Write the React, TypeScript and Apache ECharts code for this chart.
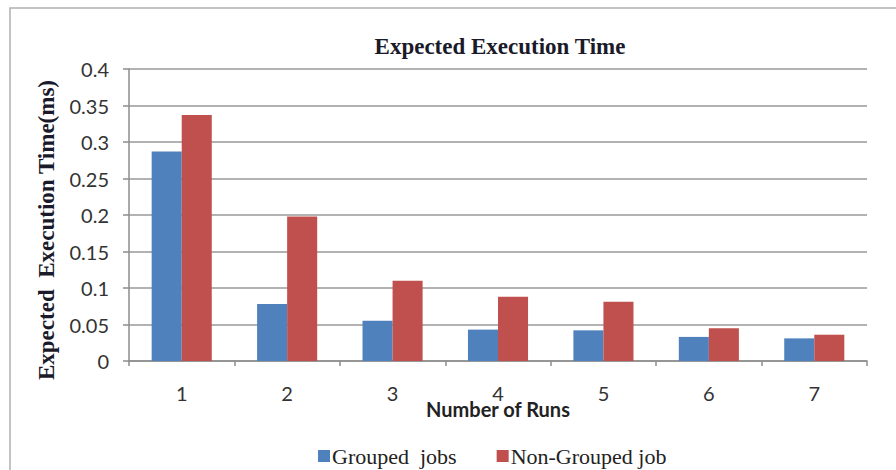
import React, { useEffect, useRef } from "react";
import * as echarts from "echarts";

const categories = ["1", "2", "3", "4", "5", "6", "7"];
const groupedJobs = [0.287, 0.078, 0.055, 0.043, 0.042, 0.033, 0.031];
const nonGroupedJobs = [0.337, 0.198, 0.11, 0.088, 0.081, 0.045, 0.036];
const seriesNames = ["Grouped  jobs", "Non-Grouped job"];

export default function App() {
  const ref = useRef<HTMLDivElement>(null);
  useEffect(() => {
    if (!ref.current) return;
    const chart = echarts.init(ref.current, null, { renderer: "svg" });
    const serif = "Liberation Serif";
    const sans = "Lato";
    chart.setOption({
      animation: false,
      backgroundColor: "#ffffff",
      graphic: [
        {
          type: "rect",
          shape: { x: 10, y: 8, width: 900, height: 500 },
          style: { fill: "none", stroke: "#b0b0b0", lineWidth: 1.5 },
          silent: true,
          z: -1,
        },
      ],
      title: {
        text: "Expected Execution Time",
        left: 495,
        textAlign: "center",
        top: 30,
        textStyle: { fontFamily: serif, fontWeight: "bold", fontSize: 23, color: "#1a1a2a" },
      },
      legend: {
        left: 313,
        top: 440,
        itemWidth: 12,
        itemHeight: 12,
        itemGap: 40,
        icon: "rect",
        textStyle: { fontFamily: serif, fontSize: 22, color: "#222", padding: [0, 0, 0, -3] },
        data: seriesNames,
      },
      grid: { left: 129, right: 29, top: 69, bottom: 109 },
      xAxis: {
        type: "category",
        data: categories,
        name: "Number of Runs",
        nameLocation: "middle",
        nameGap: 38,
        nameMoveOverlap: false,
        nameTextStyle: { fontFamily: sans, fontWeight: "bold", fontSize: 20, color: "#222" },
        axisLine: { lineStyle: { color: "#8c8c8c", width: 1.5 } },
        axisTick: { show: true, length: 5, lineStyle: { color: "#8c8c8c", width: 1.5 } },
        axisLabel: { fontFamily: sans, fontSize: 20, color: "#333", margin: 22 },
      },
      yAxis: {
        type: "value",
        min: 0,
        max: 0.4,
        interval: 0.05,
        name: "Expected  Execution Time(ms)",
        nameLocation: "middle",
        nameRotate: 90,
        nameGap: 71,
        nameMoveOverlap: false,
        nameTextStyle: {
          fontFamily: serif,
          fontWeight: "bold",
          fontSize: 23,
          color: "#1a1a2a",
          padding: [0, 30, 0, 0],
        },
        axisLine: { show: true, lineStyle: { color: "#8c8c8c", width: 1.5 } },
        axisTick: { show: true, length: 6, lineStyle: { color: "#8c8c8c", width: 1.5 } },
        axisLabel: { fontFamily: sans, fontSize: 20, color: "#333", margin: 20 },
        splitLine: { lineStyle: { color: "#999999", width: 1.5 } },
      },
      series: [
        {
          name: seriesNames[0],
          type: "bar",
          data: groupedJobs,
          barGap: "0%",
          barCategoryGap: "43%",
          itemStyle: { color: "#4F81BD" },
        },
        {
          name: seriesNames[1],
          type: "bar",
          data: nonGroupedJobs,
          barGap: "0%",
          barCategoryGap: "43%",
          itemStyle: { color: "#C0504D" },
        },
      ],
    });
    return () => chart.dispose();
  }, []);
  return (
    <div
      ref={ref}
      style={{ position: "fixed", left: 0, top: 0, width: 896, height: 470 }}
    />
  );
}
